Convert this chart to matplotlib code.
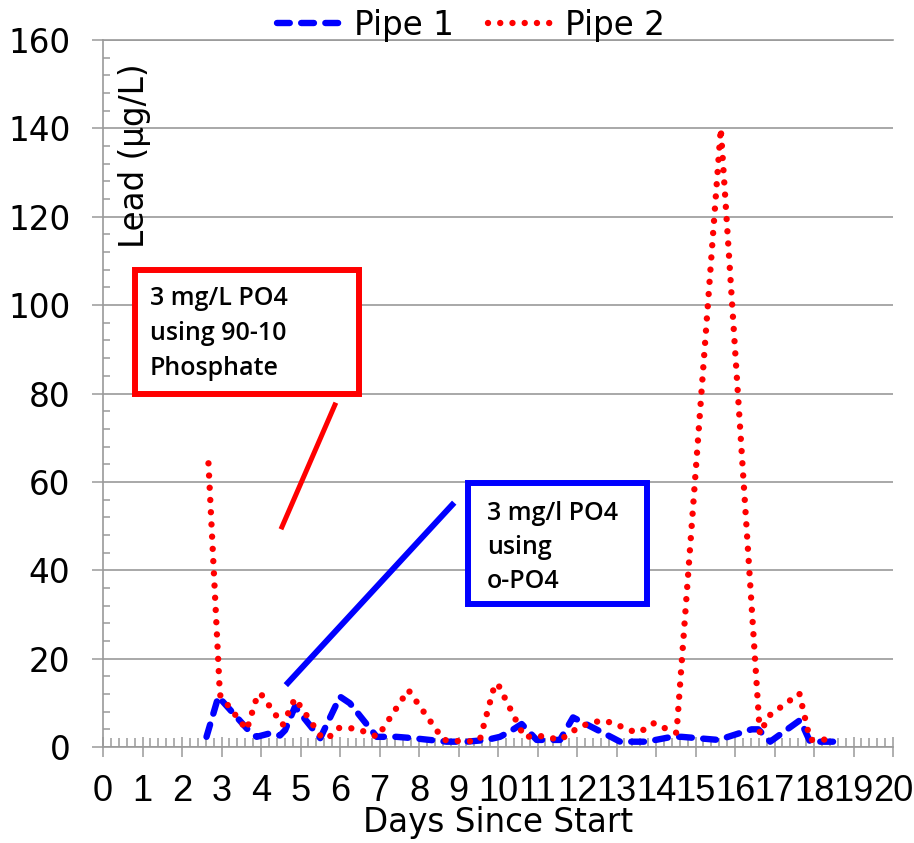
import matplotlib
matplotlib.use("Agg")
import matplotlib.pyplot as plt
from matplotlib.patches import Rectangle
from matplotlib.ticker import MultipleLocator

# Lead concentration in two pipe loops
pipe1_days = [2.62, 2.92, 3.68, 3.89, 4.23, 4.48, 4.61, 4.86, 5.5, 6.0, 6.25, 6.93,
              7.43, 7.85, 8.27, 8.7, 9.2, 9.71, 10.05, 10.3, 10.6, 10.98, 11.57,
              11.9, 12.92, 13.09, 13.76, 14.4, 14.65, 15.58, 16.42, 16.59, 16.89,
              17.65, 17.9, 18.53]
pipe1_lead = [2.3, 11.4, 3.8, 2.3, 3.1, 2.6, 3.8, 9.1, 2.0, 11.4, 9.9, 2.3,
              2.3, 2.0, 1.6, 1.2, 1.2, 1.6, 2.3, 3.5, 5.2, 1.6, 1.6,
              6.7, 2.0, 1.2, 1.2, 2.3, 2.3, 1.6, 4.0, 4.0, 1.2,
              6.1, 1.2, 1.2]

pipe2_days = [2.67, 2.96, 3.64, 3.92, 4.0, 4.55, 4.86, 5.54, 5.7, 5.95, 6.25, 6.55,
              6.95, 7.73, 8.62, 9.2, 9.54, 9.92, 10.0, 10.67, 10.98, 11.27, 11.57,
              12.05, 12.33, 12.64, 12.92, 13.2, 13.49, 13.72, 13.95, 14.24, 14.52,
              15.64, 16.63, 16.85, 17.14, 17.63, 17.9, 18.2, 18.51]
pipe2_lead = [64.2, 11.8, 3.9, 12.0, 12.0, 5.0, 11.0, 2.1, 2.0, 4.3, 4.3, 3.7,
              2.3, 12.9, 1.6, 1.2, 1.6, 14.2, 14.2, 2.2, 2.6, 2.2, 1.6,
              4.5, 5.4, 6.0, 5.4, 4.3, 3.3, 4.0, 5.4, 4.2, 3.2,
              140.0, 2.9, 7.0, 8.9, 12.1, 1.6, 1.6, 2.0]

x_ticks = list(range(0, 21))
y_ticks = list(range(0, 161, 20))

red_note = ["3 mg/L PO4", "using 90-10", "Phosphate"]
blue_note = ["3 mg/l PO4", "using", "o-PO4"]

plt.rcParams["font.family"] = ["DejaVu Sans"]
plt.rcParams["lines.scale_dashes"] = False

GRAY = "#9a9a9a"
FS = 23.5
NOTE_FONT = ["Open Sans", "DejaVu Sans"]

fig = plt.figure(figsize=(9.14, 8.43), dpi=100)
ax = fig.add_axes([103 / 914, 1 - 747 / 843, 790 / 914, 707 / 843])
ax.set_xlim(0, 20)
ax.set_ylim(0, 160)

l1, = ax.plot(pipe1_days, pipe1_lead, color="#0000ff", lw=4.6,
              dashes=(9.2, 8.2), dash_capstyle="round", label="Pipe 1", zorder=3)
l2, = ax.plot(pipe2_days, pipe2_lead, color="#ff0000", lw=4.6,
              dashes=(0.01, 8.8), dash_capstyle="round", label="Pipe 2", zorder=4)

# axes styling
ax.spines["right"].set_visible(False)
for side in ("left", "bottom", "top"):
    ax.spines[side].set_color(GRAY)
    ax.spines[side].set_linewidth(1.2)
ax.yaxis.grid(True, color=GRAY, lw=1.2)
ax.set_axisbelow(True)

ax.set_xticks(x_ticks)
ax.set_xticklabels([str(t) for t in x_ticks], family=["Liberation Sans", "DejaVu Sans"],
                   fontsize=26)
ax.set_yticks(y_ticks)
ax.set_yticklabels([str(t) for t in y_ticks], fontsize=FS)
ax.xaxis.set_minor_locator(MultipleLocator(0.2))
ax.yaxis.set_minor_locator(MultipleLocator(4))
ax.tick_params(axis="x", which="major", direction="inout", length=14.4,
               width=1.1, color=GRAY, pad=12)
ax.tick_params(axis="x", which="minor", direction="in", length=6.5,
               width=1.1, color=GRAY)
ax.tick_params(axis="y", which="major", direction="out", length=8,
               width=1.1, color=GRAY, pad=15.5)
ax.tick_params(axis="y", which="minor", direction="in", length=5,
               width=1.1, color=GRAY)

ax.set_xlabel("Days Since Start", fontsize=FS)
ax.xaxis.set_label_coords(0.5, -0.083)
ax.text(0.040, 0.836, "Lead (\u00b5g/L)", transform=ax.transAxes, rotation=90,
        ha="center", va="center", fontsize=FS)

leg = fig.legend(handles=[l1, l2], loc="center", bbox_to_anchor=(471 / 914, 1 - 25 / 843),
                 ncol=2, frameon=False, fontsize=FS, handlelength=2.02,
                 handletextpad=0.34, columnspacing=1.04, borderpad=0.0)

# callout boxes
ax.add_patch(Rectangle((0.81, 79.9), 6.48 - 0.81, 107.9 - 79.9, facecolor="white",
                       edgecolor="#ff0000", lw=4.3, zorder=5))
ax.add_patch(Rectangle((9.24, 32.4), 13.77 - 9.24, 59.7 - 32.4, facecolor="white",
                       edgecolor="#0000ff", lw=4.3, zorder=5))
for i, line in enumerate(red_note):
    ax.text(1.19, 100.0 - 7.9 * i, line, fontsize=18, family=NOTE_FONT,
            fontweight="semibold", ha="left", va="baseline", zorder=6)
for i, line in enumerate(blue_note):
    ax.text(9.72, 51.4 - 7.7 * i, line, fontsize=18, family=NOTE_FONT,
            fontweight="semibold", ha="left", va="baseline", zorder=6)
ax.plot([5.87, 4.53], [77.4, 49.8], color="#ff0000", lw=3.6, zorder=5)
ax.plot([8.84, 4.68], [54.8, 14.5], color="#0000ff", lw=4.3, zorder=5)

fig.savefig("out.png", dpi=100)
